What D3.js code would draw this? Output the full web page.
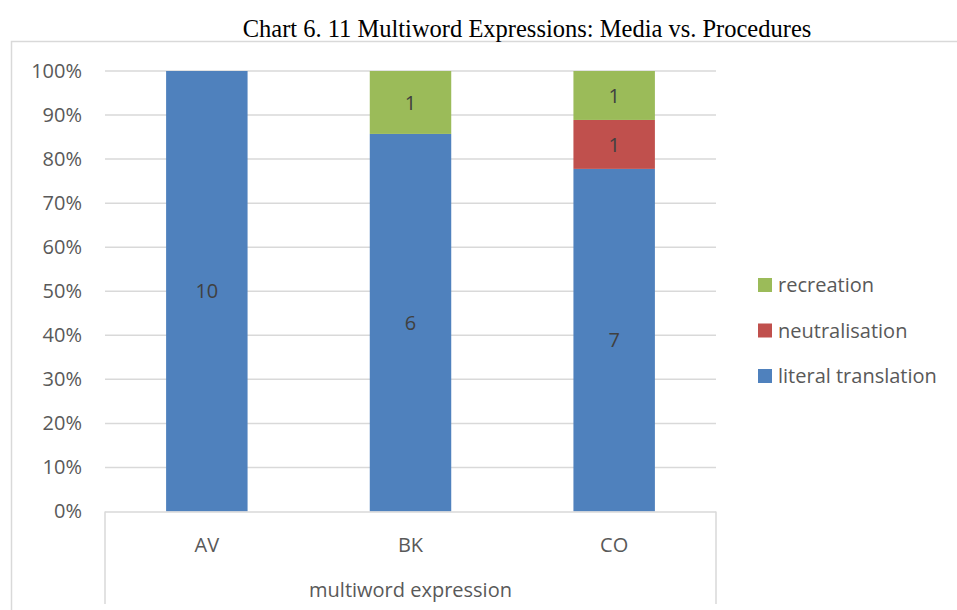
<!DOCTYPE html>
<html>
<head>
<meta charset="utf-8">
<script src="https://cdn.jsdelivr.net/npm/d3@7"></script>
<style>
  html, body { margin: 0; padding: 0; background: #fff; }
  svg { display: block; }
</style>
</head>
<body>
<svg id="chart" width="957" height="610"></svg>
<script>
// Counts per category and translation strategy
const categories = ["AV", "BK", "CO"];
const seriesNames = ["literal translation", "neutralisation", "recreation"];
const literalTranslation = [10, 6, 7];
const neutralisation = [0, 0, 1];
const recreation = [0, 1, 1];
const yTicks = [0, 0.1, 0.2, 0.3, 0.4, 0.5, 0.6, 0.7, 0.8, 0.9, 1.0];
const colors = { "literal translation": "#4f81bd", "neutralisation": "#c0504d", "recreation": "#9bbb59" };

const rows = categories.map((c, i) => ({
  category: c,
  "literal translation": literalTranslation[i],
  "neutralisation": neutralisation[i],
  "recreation": recreation[i]
}));

const svg = d3.select("#chart");
const font = "'Open Sans', 'Liberation Sans', sans-serif";
const fs = 20;

// Outer chart frame
svg.append("rect")
  .attr("x", 11.5).attr("y", 41.5).attr("width", 1000).attr("height", 700)
  .attr("fill", "none").attr("stroke", "#d9d9d9").attr("stroke-width", 1.5);

// Title
svg.append("text")
  .attr("x", 527).attr("y", 37)
  .attr("text-anchor", "middle")
  .attr("font-family", "'Liberation Serif', 'Times New Roman', serif")
  .attr("font-size", 24.5).attr("fill", "#000")
  .text("Chart 6. 11 Multiword Expressions: Media vs. Procedures");

const plot = { left: 105, right: 716, top: 71, bottom: 511.5 };

const x = d3.scaleBand().domain(categories).range([plot.left, plot.right]).paddingInner(0.6).paddingOuter(0.3);
const y = d3.scaleLinear().domain([0, 1]).range([plot.bottom, plot.top]);

// Gridlines
svg.append("g").selectAll("line").data(yTicks.slice(1)).join("line")
  .attr("x1", plot.left).attr("x2", plot.right)
  .attr("y1", d => y(d)).attr("y2", d => y(d))
  .attr("stroke", "#d9d9d9").attr("stroke-width", 1.5);

// Y axis labels
const yAxis = d3.axisLeft(y).tickValues(yTicks).tickFormat(d3.format(".0%")).tickSize(0).tickPadding(23);
const yg = svg.append("g").attr("transform", `translate(${plot.left},0)`).call(yAxis);
yg.select(".domain").remove();
yg.selectAll("text").attr("font-family", font).attr("font-size", fs).attr("fill", "#595959");

// Stacked percentages
const stack = d3.stack().keys(seriesNames).offset(d3.stackOffsetExpand);
const stacked = stack(rows);

const layers = svg.append("g").selectAll("g").data(stacked).join("g")
  .attr("fill", d => colors[d.key]);

layers.selectAll("rect").data(d => d.map(p => ({ key: d.key, p }))).join("rect")
  .attr("x", d => x(d.p.data.category))
  .attr("width", x.bandwidth())
  .attr("y", d => y(d.p[1]))
  .attr("height", d => y(d.p[0]) - y(d.p[1]));

// Value labels
const labels = [];
stacked.forEach(layer => layer.forEach(p => {
  const v = p.data[layer.key];
  if (v > 0) labels.push({ cat: p.data.category, mid: (p[0] + p[1]) / 2, v });
}));
svg.append("g").selectAll("text").data(labels).join("text")
  .attr("x", d => x(d.cat) + x.bandwidth() / 2)
  .attr("y", d => y(d.mid))
  .attr("dy", "0.36em")
  .attr("text-anchor", "middle")
  .attr("font-family", font).attr("font-size", fs).attr("fill", "#404040")
  .text(d => d.v);

// Category axis frame
const axisColor = "#d9d9d9";
svg.append("line").attr("x1", plot.left).attr("x2", plot.right).attr("y1", plot.bottom + 0.5).attr("y2", plot.bottom + 0.5)
  .attr("stroke", axisColor).attr("stroke-width", 1.5);
[plot.left, plot.right].forEach(xx => {
  svg.append("line").attr("x1", xx).attr("x2", xx).attr("y1", plot.bottom).attr("y2", 604)
    .attr("stroke", axisColor).attr("stroke-width", 1.5);
});

// Category labels
svg.append("g").selectAll("text").data(categories).join("text")
  .attr("x", d => x(d) + x.bandwidth() / 2)
  .attr("y", 545).attr("dy", "0.36em")
  .attr("text-anchor", "middle")
  .attr("font-family", font).attr("font-size", fs).attr("fill", "#595959")
  .text(d => d);

svg.append("text")
  .attr("x", (plot.left + plot.right) / 2).attr("y", 590).attr("dy", "0.36em")
  .attr("text-anchor", "middle")
  .attr("font-family", font).attr("font-size", fs).attr("fill", "#595959")
  .text("multiword expression");

// Legend
const legendItems = seriesNames.slice().reverse();
const lg = svg.append("g").selectAll("g").data(legendItems).join("g")
  .attr("transform", (d, i) => `translate(758, ${285 + i * 45.5})`);
lg.append("rect").attr("x", 0).attr("y", -7).attr("width", 14).attr("height", 14)
  .attr("fill", d => colors[d]);
lg.append("text").attr("x", 20).attr("y", 0).attr("dy", "0.36em")
  .attr("font-family", font).attr("font-size", fs).attr("fill", "#595959")
  .text(d => d);
</script>
</body>
</html>
